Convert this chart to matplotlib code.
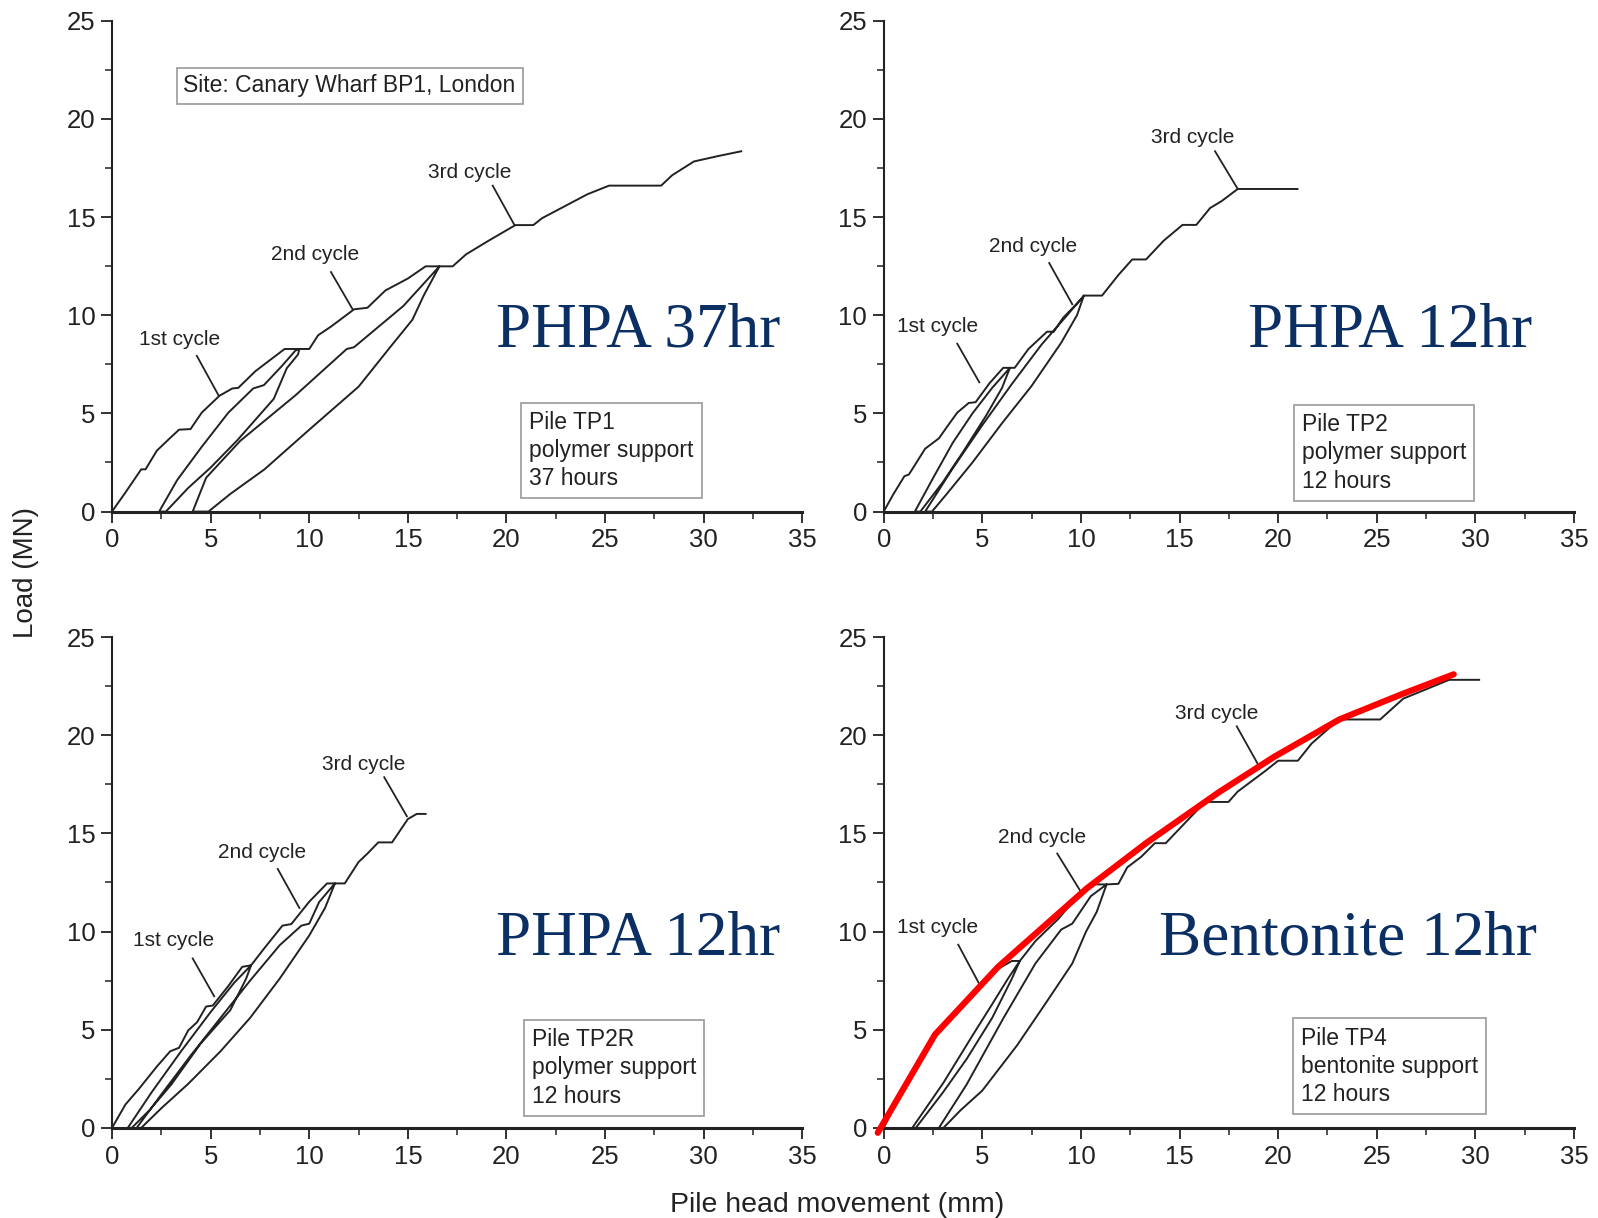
import matplotlib
matplotlib.use("Agg")
import matplotlib.pyplot as plt
from matplotlib.ticker import MultipleLocator

plt.rcParams['font.family'] = ['Liberation Sans', 'DejaVu Sans']

# ---- digitised load-movement paths (mm, MN) ----
# TP1, 37 hours
tp1_x = [0, 0.7, 1.48, 1.7, 2.27, 3.0, 3.4, 3.98, 4.55, 5.45, 6.1, 6.4, 7.27, 7.95, 8.75, 9.5,
         9.43, 8.86, 8.2, 6.36, 5.0, 3.86, 2.73, 2.39,
         3.3, 4.55, 5.9, 7.16, 7.7, 8.6, 9.3, 9.5, 10.0,
         10.45, 11.1, 12.27, 12.95, 13.86, 15.0, 15.9, 16.6,
         15.8, 15.23, 14.1, 12.5, 10.0, 7.73, 6.0, 4.89, 4.09,
         4.77, 6.5, 9.3, 11.9, 12.27, 14.77, 16.6, 17.27,
         17.95, 19.1, 20.45, 21.36, 21.8, 22.95, 24.1, 25.2, 27.84, 28.4, 29.5, 30.7, 31.9]
tp1_y = [0, 1.0, 2.15, 2.15, 3.1, 3.8, 4.17, 4.2, 5.04, 5.9, 6.27, 6.3, 7.15, 7.67, 8.28, 8.28,
         8.0, 7.3, 5.74, 3.64, 2.24, 1.2, 0, 0,
         1.6, 3.3, 5.04, 6.27, 6.44, 7.4, 8.2, 8.28, 8.28,
         8.98, 9.42, 10.3, 10.38, 11.26, 11.87, 12.49, 12.49,
         11.0, 9.77, 8.37, 6.36, 4.17, 2.15, 0.9, 0, 0,
         1.72, 3.6, 5.92, 8.28, 8.37, 10.47, 12.49, 12.49,
         13.1, 13.8, 14.59, 14.59, 14.94, 15.55, 16.16, 16.6, 16.6, 17.13, 17.83, 18.1, 18.35]

# TP2, 12 hours
tp2_x = [0, 0.5, 1.05, 1.28, 2.1, 2.8, 3.2, 3.73, 4.31, 4.66, 5.36, 6.06, 6.4,
         6.0, 5.2, 4.0, 3.0, 1.86, 1.58,
         2.5, 3.5, 4.5, 5.5, 6.4, 6.64,
         7.34, 8.28, 8.62, 9.09, 10.02, 10.15,
         9.8, 9.0, 7.5, 6.0, 4.5, 3.2, 2.45, 2.1,
         3.5, 5.0, 6.5, 8.0, 9.3, 10.15, 11.07,
         11.9, 12.6, 13.3, 14.2, 15.15, 15.85, 16.55, 17.13, 17.95, 20.98]
tp2_y = [0, 0.9, 1.8, 1.89, 3.2, 3.73, 4.3, 5.04, 5.53, 5.57, 6.53, 7.32, 7.32,
         6.3, 4.9, 3.0, 1.5, 0, 0,
         1.7, 3.5, 5.0, 6.3, 7.32, 7.32,
         8.28, 9.16, 9.16, 9.86, 10.82, 11.0,
         10.0, 8.6, 6.4, 4.5, 2.5, 0.9, 0, 0,
         2.2, 4.4, 6.5, 8.5, 10.0, 11.0, 11.0,
         12.05, 12.84, 12.84, 13.8, 14.6, 14.6, 15.46, 15.81, 16.43, 16.43]

# TP2R, 12 hours
tp2r_x = [0, 0.68, 1.36, 2.27, 2.95, 3.4, 3.86, 4.32, 4.77, 5.11, 5.9, 6.6, 7.05,
          6.8, 6.0, 4.5, 3.0, 1.9, 1.0, 0.8,
          2.0, 3.5, 5.0, 6.2, 7.05,
          7.73, 8.64, 9.09, 10.0, 10.68, 10.9, 11.3,
          10.8, 10.0, 8.5, 7.0, 5.5, 3.86, 2.5, 1.48, 1.25,
          2.5, 4.0, 5.5, 7.0, 8.5, 9.6, 10.0, 10.5, 11.3, 11.8,
          12.5, 12.95, 13.5, 14.2, 15.0, 15.45, 15.9]
tp2r_y = [0, 1.19, 1.98, 3.12, 3.9, 4.08, 4.96, 5.39, 6.18, 6.23, 7.23, 8.2, 8.28,
          7.6, 6.0, 4.3, 2.2, 0.9, 0, 0,
          1.8, 3.9, 5.9, 7.4, 8.28,
          9.16, 10.3, 10.38, 11.52, 12.22, 12.45, 12.45,
          11.2, 9.8, 7.6, 5.6, 3.9, 2.24, 1.0, 0, 0,
          1.7, 3.7, 5.6, 7.5, 9.3, 10.3, 10.4, 11.5, 12.45, 12.45,
          13.54, 13.97, 14.54, 14.54, 15.73, 15.99, 15.99]

# TP4, bentonite 12 hours
tp4_x = [0, 0.6, 1.2, 1.9, 2.6, 3.3, 4.2, 5.0, 5.8, 6.5, 6.9,
         6.5, 5.5, 4.2, 3.0, 1.63, 1.45,
         3.03, 4.5, 5.5, 6.3, 6.9,
         7.69, 8.86, 10.02, 10.72, 11.3,
         10.8, 10.26, 9.56, 8.16, 6.76, 5.0, 3.9, 3.03, 2.8,
         4.2, 6.06, 7.69, 9.0, 9.56, 10.5, 11.3, 11.9,
         12.35, 13.05, 13.75, 14.3, 15.38, 16.3, 17.48, 17.95, 19.35, 20.0, 21.0,
         21.7, 23.08, 25.17, 26.34, 28.67, 30.19]
tp4_y = [0, 1.2, 2.3, 3.4, 4.6, 5.5, 6.5, 7.4, 8.1, 8.5, 8.5,
         7.6, 5.6, 3.5, 1.8, 0, 0,
         2.3, 4.7, 6.3, 7.6, 8.5,
         9.51, 10.65, 12.05, 12.4, 12.4,
         11.0, 10.0, 8.37, 6.27, 4.2, 1.9, 0.9, 0, 0,
         2.2, 5.57, 8.37, 10.1, 10.4, 11.8, 12.4, 12.43,
         13.27, 13.8, 14.5, 14.5, 15.64, 16.6, 16.6, 17.13, 18.18, 18.7, 18.7,
         19.58, 20.8, 20.8, 21.86, 22.82, 22.82]

# red trend line drawn over TP4
red_x = [-0.3, 2.6, 5.8, 10.3, 13.3, 17.0, 19.8, 23.1, 26.3, 28.9]
red_y = [-0.25, 4.75, 8.2, 12.2, 14.5, 17.1, 18.9, 20.8, 22.1, 23.1]

big_labels = ["PHPA 37hr", "PHPA 12hr", "PHPA 12hr", "Bentonite 12hr"]
big_pos = [(33.87, 8.4), (32.9, 8.4), (33.87, 8.82), (33.1, 8.82)]

info_texts = ["Pile TP1\npolymer support\n37 hours",
              "Pile TP2\npolymer support\n12 hours",
              "Pile TP2R\npolymer support\n12 hours",
              "Pile TP4\nbentonite support\n12 hours"]
info_pos = [(21.15, 3.11), (21.2, 3.0), (21.27, 3.05), (21.17, 3.13)]

cycle_names = ["1st cycle", "2nd cycle", "3rd cycle"]
cycle_text = [[(3.41, 8.77), (10.29, 13.07), (18.15, 17.27)],
              [(2.74, 9.44), (7.56, 13.49), (15.69, 19.04)],
              [(3.10, 9.54), (7.6, 14.05), (12.77, 18.5)],
              [(2.74, 10.22), (8.03, 14.78), (16.88, 21.1)]]
leaders = [[((4.3, 7.93), (5.4, 5.92)), ((11.1, 12.2), (12.2, 10.3)), ((19.3, 16.6), (20.4, 14.6))],
           [((3.73, 8.55), (4.85, 6.58)), ((8.39, 12.66), (9.56, 10.56)), ((16.8, 18.35), (17.95, 16.43))],
           [((4.09, 8.63), (5.18, 6.7)), ((8.4, 13.19), (9.5, 11.2)), ((13.8, 17.86), (14.95, 15.87))],
           [((3.78, 9.33), (4.85, 7.32)), ((8.8, 13.97), (9.98, 12.05)), ((17.9, 20.45), (19.07, 18.35))]]

paths = [(tp1_x, tp1_y), (tp2_x, tp2_y), (tp2r_x, tp2r_y), (tp4_x, tp4_y)]

fig = plt.figure(figsize=(15.98, 12.18), dpi=100)
rects = [[0.0701, 0.580, 0.432, 0.403], [0.553, 0.580, 0.432, 0.403],
         [0.0701, 0.074, 0.432, 0.403], [0.553, 0.074, 0.432, 0.403]]

ink = '#222222'
navy = '#0b2f63'

for i, r in enumerate(rects):
    ax = fig.add_axes(r)
    x, y = paths[i]
    ax.plot(x, y, color=ink, lw=1.4, solid_joinstyle='round')

    for name, (tx, ty), (p0, p1) in zip(cycle_names, cycle_text[i], leaders[i]):
        ax.text(tx, ty, name, fontsize=15, color=ink, ha='center', va='center')
        ax.plot([p0[0], p1[0]], [p0[1], p1[1]], color=ink, lw=1.3)

    ax.text(info_pos[i][0], info_pos[i][1], info_texts[i], fontsize=16.5, color=ink,
            ha='left', va='center', linespacing=1.3,
            bbox=dict(boxstyle='square,pad=0.35', fc='white', ec='#999999', lw=1.2))

    ax.text(big_pos[i][0], big_pos[i][1], big_labels[i], fontsize=45.5, color=navy,
            family='Liberation Serif', ha='right', va='baseline')

    if i == 0:
        ax.text(3.62, 21.68, "Site: Canary Wharf BP1, London", fontsize=16.5, color=ink,
                ha='left', va='center',
                bbox=dict(boxstyle='square,pad=0.3', fc='white', ec='#999999', lw=1.2))
    if i == 3:
        ax.plot(red_x, red_y, color='#ff0000', lw=4.5, solid_capstyle='round', clip_on=False, zorder=5)

    ax.set_xlim(0, 35)
    ax.set_ylim(0, 25)
    ax.xaxis.set_major_locator(MultipleLocator(5))
    ax.xaxis.set_minor_locator(MultipleLocator(2.5))
    ax.yaxis.set_major_locator(MultipleLocator(5))
    ax.yaxis.set_minor_locator(MultipleLocator(2.5))
    ax.spines['top'].set_visible(False)
    ax.spines['right'].set_visible(False)
    ax.spines['left'].set_linewidth(1.5)
    ax.spines['bottom'].set_linewidth(2.2)
    ax.spines['left'].set_color(ink)
    ax.spines['bottom'].set_color(ink)
    ax.tick_params(which='major', direction='out', length=8, width=1.3, labelsize=18.5,
                   colors=ink, pad=4)
    ax.tick_params(which='minor', direction='out', length=5, width=1.1, colors=ink)
    ax.patch.set_alpha(0)

fig.text(0.016, 0.530, "Load (MN)", rotation=90, fontsize=20, color=ink, ha='center', va='center')
fig.text(0.524, 0.011, "Pile head movement (mm)", fontsize=20.5, color=ink, ha='center', va='center')

fig.savefig("out.png", dpi=100, facecolor='white')
